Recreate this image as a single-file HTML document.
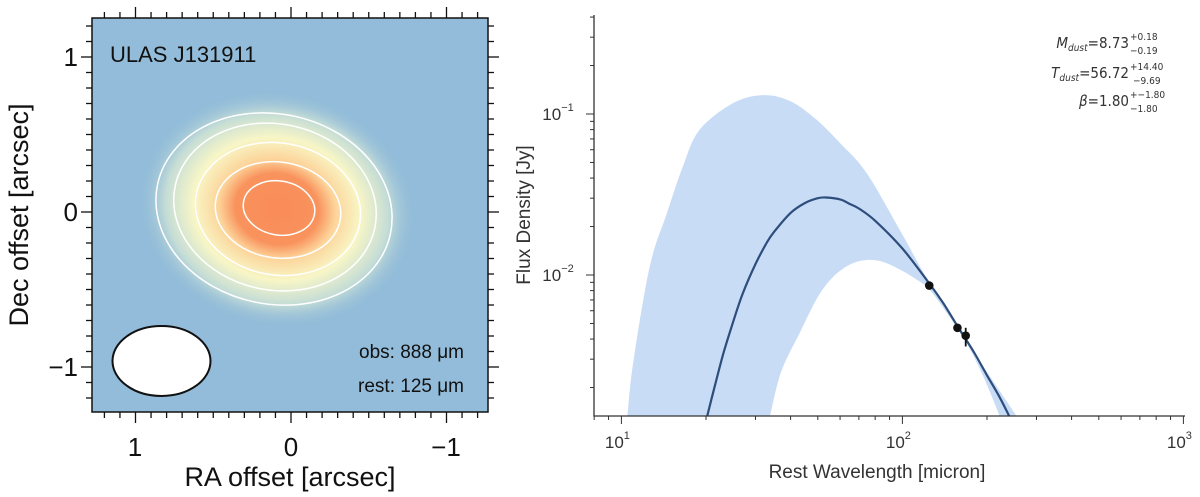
<!DOCTYPE html>
<html><head><meta charset="utf-8"><style>
body{margin:0;width:1200px;height:497px;background:#fff;overflow:hidden;font-family:"Liberation Sans",sans-serif}
svg{position:absolute;left:0;top:0}
</style></head><body>
<svg width="1200" height="497">
<defs>
<radialGradient id="blob" cx="0.5" cy="0.5" r="0.5">
<stop offset="0" stop-color="#f98b58"/>
<stop offset="0.3" stop-color="#f9935d"/>
<stop offset="0.42" stop-color="#fcd49a"/>
<stop offset="0.6" stop-color="#f8f6c6"/>
<stop offset="0.8" stop-color="#c5ddd6"/>
<stop offset="1" stop-color="#92bcd9" stop-opacity="0"/>
</radialGradient>
<clipPath id="mapclip"><rect x="92" y="18" width="396" height="394"/></clipPath>
</defs>
<g>
<rect x="92" y="18" width="396" height="394" fill="#92bcd9"/>
<g clip-path="url(#mapclip)">
<ellipse cx="277" cy="209" rx="140" ry="118" transform="rotate(12 277 209)" fill="url(#blob)"/>
<g fill="none" stroke="#fff" stroke-width="1.5">
<ellipse cx="274" cy="209" rx="119" ry="95" transform="rotate(12 274 209)"/>
<ellipse cx="275" cy="207" rx="102" ry="83" transform="rotate(12 275 207)"/>
<ellipse cx="278" cy="209" rx="83" ry="66" transform="rotate(10 278 209)"/>
<ellipse cx="278" cy="210" rx="63" ry="48" transform="rotate(8 278 210)"/>
<ellipse cx="279" cy="208" rx="36" ry="27" transform="rotate(10 279 208)"/>
</g>
</g>
<ellipse cx="161.5" cy="361" rx="49" ry="35" fill="#fff" stroke="#111" stroke-width="2"/>
<rect x="92" y="18" width="396" height="394" fill="none" stroke="#111" stroke-width="1.5"/>
<g id="mapticks" stroke="#111" stroke-width="1.3"></g>
<text x="110" y="62" font-size="22" fill="#111">ULAS J131911</text>
<text x="464" y="358" font-size="19" fill="#111" text-anchor="end">obs: 888 μm</text>
<text x="464" y="392" font-size="19" fill="#111" text-anchor="end">rest: 125 μm</text>
<g font-size="26" fill="#111">
<text x="135" y="456" text-anchor="middle">1</text>
<text x="291" y="456" text-anchor="middle">0</text>
<text x="446" y="456" text-anchor="middle">−1</text>
<text x="78" y="66" text-anchor="end">1</text>
<text x="78" y="221" text-anchor="end">0</text>
<text x="78" y="376" text-anchor="end">−1</text>
</g>
<text x="290" y="486" font-size="27" fill="#111" text-anchor="middle">RA offset [arcsec]</text>
<text transform="translate(28,215) rotate(-90)" font-size="27" fill="#111" text-anchor="middle">Dec offset [arcsec]</text>
</g>
<g>
<g id="sed"></g>
<g font-size="15" fill="#333" font-family="'DejaVu Sans Condensed','Liberation Sans Narrow','Liberation Sans',sans-serif">
<text x="1129" y="48" text-anchor="end"><tspan font-style="italic">M<tspan font-size="10" dy="3">dust</tspan></tspan><tspan dy="-3">=8.73</tspan></text>
<text x="1130" y="40" font-size="10">+0.18</text><text x="1130" y="54" font-size="10">−0.19</text>
<text x="1129" y="78" text-anchor="end"><tspan font-style="italic">T<tspan font-size="10" dy="3">dust</tspan></tspan><tspan dy="-3">=56.72</tspan></text>
<text x="1130" y="70" font-size="10">+14.40</text><text x="1133" y="84" font-size="10">−9.69</text>
<text x="1129" y="106" text-anchor="end"><tspan font-style="italic">β</tspan>=1.80</text>
<text x="1130" y="98" font-size="10">+−1.80</text><text x="1130" y="112" font-size="10">−1.80</text>
</g>
</g>
</svg>
<script>
(function(){
  var g=document.getElementById('mapticks');
  var ns='http://www.w3.org/2000/svg';
  function ln(x1,y1,x2,y2){var l=document.createElementNS(ns,'line');l.setAttribute('x1',x1);l.setAttribute('y1',y1);l.setAttribute('x2',x2);l.setAttribute('y2',y2);
  
  
  g.appendChild(l);}
  for(var i=-12;i<=12;i++){
    var v=i/10, L=(i%10===0)?11:6;
    var x=291-v*155.5, y=212-v*155;
    ln(x,18,x,18-L); ln(x,412,x,412+L);
    ln(92,y,92-L,y); ln(488,y,488+L,y);
  }
})();

// ---- SED chart data ----
var modelWave=[20.2,21,23,25,27,30,33,35,40,45,50,53.4,60,65,70,80,100,125,140,160,180,200,220,240];
var modelFlux=[0.00133,0.00174,0.0032,0.00513,0.00763,0.0117,0.016,0.0186,0.0243,0.028,0.030,0.0303,0.0295,0.0276,0.0259,0.0217,0.0146,0.0088,0.00665,0.00456,0.0033,0.00238,0.00179,0.00133];
var upperWave=[10.5,11,12.6,14.5,16.6,19,25,32,40,49.5,60,74.6,98,125,169,210,255];
var upperFlux=[0.00133,0.0028,0.0112,0.024,0.048,0.08,0.117,0.131,0.12,0.092,0.066,0.043,0.019,0.0089,0.0039,0.0022,0.00133];
var lowerWave=[33.8,37,43.2,50,56.6,65,74.6,85,98,110,125,145,169,195,222];
var lowerFlux=[0.00133,0.0025,0.0044,0.0073,0.0097,0.0116,0.0124,0.0121,0.0108,0.0096,0.0081,0.0057,0.0038,0.0023,0.00133];
var obsWave=[124.6,157,168];
var obsFlux=[0.0086,0.0047,0.0042];
var obsErrLo=[0.0085,0.0045,0.0036];
var obsErrHi=[0.0087,0.0049,0.0047];
var xTickLabels=['1','2','3'];
var yTickLabels=['-2','-1'];

(function(){
  var ns='http://www.w3.org/2000/svg';
  var g=document.getElementById('sed');
  var X0=594,X1=1185,Y0=416,Y1=15;
  function sx(l){return 621.4+(Math.log10(l)-1)*281;}
  function sy(f){return 114-(Math.log10(f)+1)*161;}
  function el(t,a){var e=document.createElementNS(ns,t);for(var k in a)e.setAttribute(k,a[k]);g.appendChild(e);return e;}
  var clip=document.createElementNS(ns,'clipPath');clip.setAttribute('id','sedclip');
  var cr=document.createElementNS(ns,'rect');cr.setAttribute('x',X0);cr.setAttribute('y',Y1);cr.setAttribute('width',X1-X0);cr.setAttribute('height',Y0-Y1);
  clip.appendChild(cr);g.appendChild(clip);
  var pg=el('g',{'clip-path':'url(#sedclip)'});
  
  
  function add(t,a){var e=document.createElementNS(ns,t);for(var k in a)e.setAttribute(k,a[k]);pg.appendChild(e);return e;}
  function smooth(xs,ys){
    var p=xs.map(function(w,i){return [sx(w),sy(ys[i])];});
    var s='M'+p[0][0].toFixed(1)+','+p[0][1].toFixed(1);
    for(var i=0;i<p.length-1;i++){
      var p0=p[Math.max(i-1,0)],p1=p[i],p2=p[i+1],p3=p[Math.min(i+2,p.length-1)];
      s+=' C'+(p1[0]+(p2[0]-p0[0])/6).toFixed(1)+','+(p1[1]+(p2[1]-p0[1])/6).toFixed(1)+' '+(p2[0]-(p3[0]-p1[0])/6).toFixed(1)+','+(p2[1]-(p3[1]-p1[1])/6).toFixed(1)+' '+p2[0].toFixed(1)+','+p2[1].toFixed(1);
    }
    return s;
  }
  var up=smooth(upperWave,upperFlux), lo=smooth(lowerWave.slice().reverse(),lowerFlux.slice().reverse());
  var band=add('path',{d:up+' L'+sx(upperWave[upperWave.length-1])+','+(Y0+5)+' L'+sx(lowerWave[lowerWave.length-1])+','+(Y0+5)+' '+lo.replace('M','L')+' L'+sx(lowerWave[0])+','+(Y0+5)+' L'+sx(upperWave[0])+','+(Y0+5)+' Z',fill:'#c9dcf6'});
  
  
  var line=add('path',{d:smooth(modelWave,modelFlux),fill:'none',stroke:'#2d4d7c','stroke-width':2.2});
  
  
  for(var i=0;i<obsWave.length;i++){
    var eb=add('line',{x1:sx(obsWave[i]),x2:sx(obsWave[i]),y1:sy(obsErrHi[i]),y2:sy(obsErrLo[i]),stroke:'#111','stroke-width':1.8});
    
    
    var c=add('circle',{cx:sx(obsWave[i]),cy:sy(obsFlux[i]),r:4.3,fill:'#111'});
    
    
  }
  var ax=el('path',{d:'M'+X0+','+Y1+' L'+X0+','+Y0+' L'+X1+','+Y0,fill:'none',stroke:'#333','stroke-width':1.3});
  
  
  for(var dec=0;dec<=2;dec++){
    for(var m=1;m<=9;m++){
      var v=m*Math.pow(10,dec);var x=sx(v);
      if(x<X0-0.5||x>X1+0.5)continue;
      var t=el('line',{x1:x,x2:x,y1:Y0,y2:Y0+(m===1?8:4),stroke:'#333','stroke-width':1});
      
      
    }
  }
  var xt=el('line',{x1:sx(1000),x2:sx(1000),y1:Y0,y2:Y0+8,stroke:'#333','stroke-width':1});
  
  
  xTickLabels.forEach(function(e){
    var tx=el('text',{x:sx(Math.pow(10,+e))-4,y:448,'font-size':17,fill:'#333','text-anchor':'middle'});
    
    
    tx.innerHTML='10<tspan font-size="11" dy="-9">'+e+'</tspan>';
  });
  for(dec=-3;dec<=-1;dec++){
    for(m=1;m<=9;m++){
      v=m*Math.pow(10,dec);var y=sy(v);
      if(y>Y0+0.5||y<Y1-0.5)continue;
      var ty=el('line',{x1:X0,x2:X0-(m===1?8:4),y1:y,y2:y,stroke:'#333','stroke-width':1});
      
      
    }
  }
  yTickLabels.forEach(function(e){
    var tl=el('text',{x:X0-36,y:sy(Math.pow(10,+e))+6,'font-size':17,fill:'#333','text-anchor':'middle'});
    
    
    tl.innerHTML='10<tspan font-size="11" dy="-9">'+e.replace('-','−')+'</tspan>';
  });
  var xl=el('text',{x:877,y:478,'font-size':19,fill:'#333','text-anchor':'middle'});
  
  
  xl.textContent='Rest Wavelength [micron]';
  var yl=el('text',{transform:'translate(530,215) rotate(-90)','font-size':19,fill:'#333','text-anchor':'middle'});
  
  
  yl.textContent='Flux Density [Jy]';
})();
</script>
</body></html>
